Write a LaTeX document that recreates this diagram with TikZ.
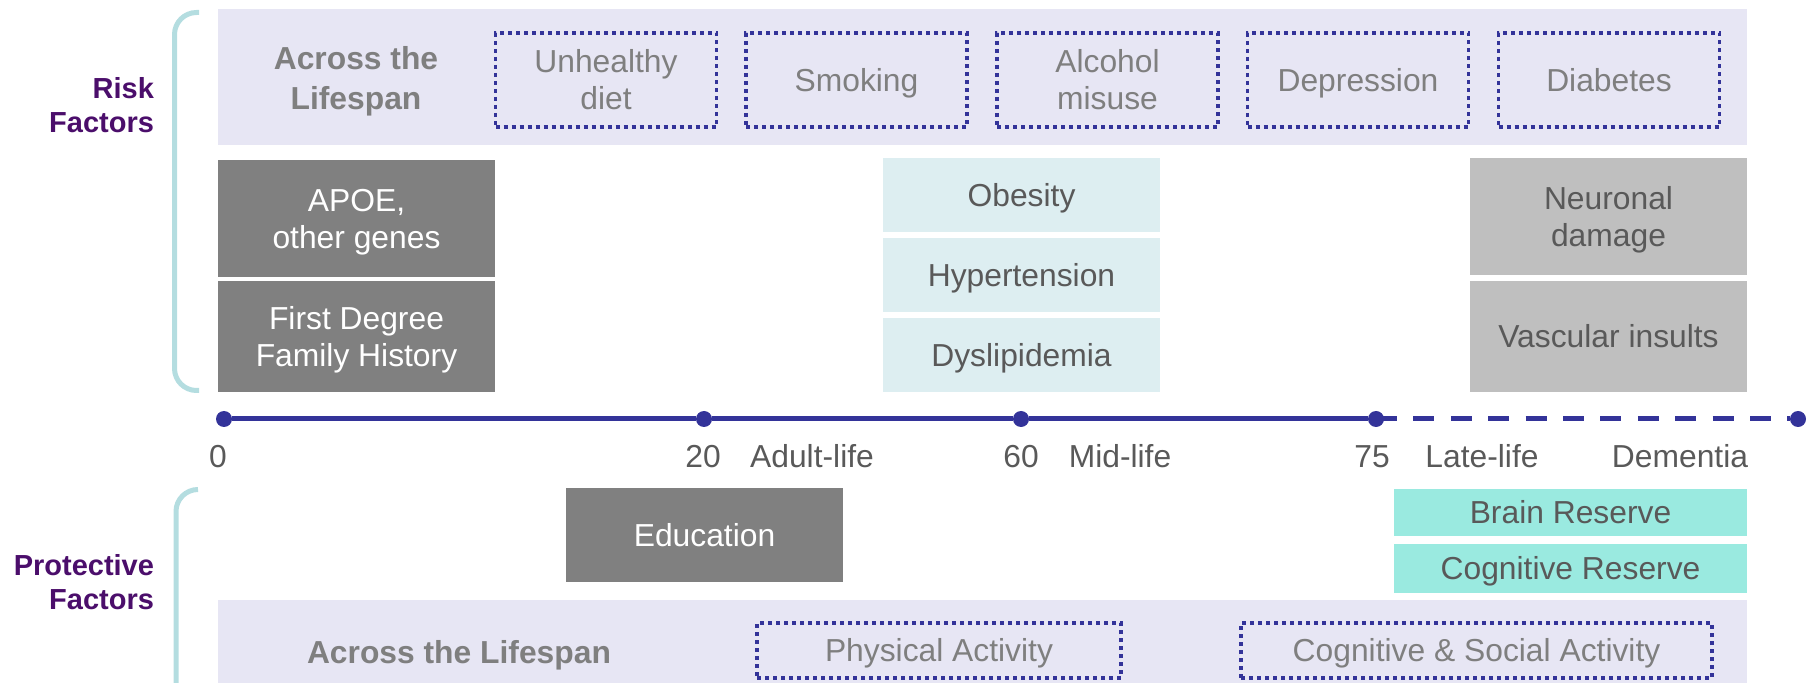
\documentclass[tikz,border=0pt]{standalone}
\usepackage{fontspec}
\setmainfont{Liberation Sans}
\usetikzlibrary{positioning}

\definecolor{bandlav}{HTML}{E7E6F4}
\definecolor{dotnavy}{HTML}{333399}
\definecolor{softgray}{HTML}{7F7F7F}
\definecolor{inkgray}{HTML}{595959}
\definecolor{genegray}{HTML}{808080}
\definecolor{lategray}{HTML}{BFBFBF}
\definecolor{paleteal}{HTML}{DDEEF1}
\definecolor{aqua}{HTML}{9AEAE0}
\definecolor{braceteal}{HTML}{B4DDE0}
\definecolor{plum}{HTML}{4B0E6B}

\newcommand\figfont{\fontsize{15.9}{18.5}\selectfont}
% even strut so that capitals sit in the middle of a box
\newcommand\capstrut{\rule[-0.234em]{0pt}{1.184em}}

\tikzset{
  lbl/.style={font=\figfont, text=inkgray, align=center, inner sep=0pt, outer sep=0pt,
    execute at begin node=\capstrut},
  band/.style={fill=bandlav, inner sep=0pt, outer sep=0pt, minimum width=764.5pt},
  dotbox/.style={lbl, text=softgray, draw=dotnavy, line width=1.6pt, dash pattern=on 2pt off 2pt},
  agebox/.style={lbl, minimum width=138.5pt},
  brace/.style={draw=braceteal, line width=2.5pt, rounded corners=11pt},
  tdot/.style={circle, fill=dotnavy, inner sep=0pt, minimum size=8pt},
  tline/.style={draw=dotnavy, line width=2.5pt},
  side/.style={lbl, font=\fontsize{14.5}{17}\selectfont\bfseries, text=plum, align=right, anchor=east}
}

\begin{document}
\begin{tikzpicture}[x=0.5pt, y=-0.5pt]
  \useasboundingbox (0,0) rectangle (1813,683);

  %%%%% RISK FACTORS %%%%%
  \draw[brace] (199,12.5) -- (174.5,12.5) -- (174.5,390.5) -- (199,390.5);
  \node[side] (risklbl) at (154,105) {\capstrut Risk\\Factors};

  \node[band, minimum height=68pt] (topband) at (982.5,77) {};
  \node[lbl, font=\fontsize{15.9}{20}\selectfont\bfseries, text=softgray] (acrosstop) at (356,78) {\capstrut Across the\\Lifespan};
  \node[dotbox, minimum width=110.5pt, minimum height=47pt] (unhealthy) at (606,80) {\capstrut Unhealthy\\diet};
  \node[dotbox, minimum width=110.5pt, minimum height=47pt] (smoking) at (856.5,80) {Smoking};
  \node[dotbox, minimum width=110.5pt, minimum height=47pt] (alcohol) at (1107.5,80) {\capstrut Alcohol\\misuse};
  \node[dotbox, minimum width=110.5pt, minimum height=47pt] (depression) at (1358,80) {Depression};
  \node[dotbox, minimum width=110.5pt, minimum height=47pt] (diabetes) at (1609,80) {Diabetes};

  \node[agebox, fill=genegray, text=white, minimum height=58.5pt] (apoe) at (356.5,218.5) {\capstrut APOE,\\other genes};
  \node[agebox, fill=genegray, text=white, minimum height=55.5pt, below=2pt of apoe] (family) {\capstrut First Degree\\Family History};

  \node[agebox, fill=paleteal, minimum height=37pt] (obesity) at (1021.5,195) {Obesity};
  \node[agebox, fill=paleteal, minimum height=37pt, below=3pt of obesity] (hypertension) {Hypertension};
  \node[agebox, fill=paleteal, minimum height=37pt, below=3pt of hypertension] (dyslipid) {Dyslipidemia};

  \node[agebox, fill=lategray, minimum height=58.5pt] (neuronal) at (1608.5,216.5) {\capstrut Neuronal\\damage};
  \node[agebox, fill=lategray, minimum height=55.5pt, below=3pt of neuronal] (vascular) {Vascular insults};

  %%%%% TIMELINE %%%%%
  \node[tdot] (t0) at (224,419) {};
  \node[tdot] (t20) at (704,419) {};
  \node[tdot] (t60) at (1021,419) {};
  \node[tdot] (t75) at (1376,419) {};
  \node[tdot] (tend) at (1798,419) {};
  \draw[tline] (t0) -- (t20) -- (t60) -- (t75);
  \draw[tline, dash pattern=on 10.5pt off 8.2pt] (t75.center) -- (tend);

  \node[lbl, anchor=base] (lab0) at (218,467) {0};
  \node[lbl, anchor=base] (lab20) at (703,467) {20};
  \node[lbl, anchor=base] (adult) at (812,467) {Adult-life};
  \node[lbl, anchor=base] (lab60) at (1021,467) {60};
  \node[lbl, anchor=base] (mid) at (1120,467) {Mid-life};
  \node[lbl, anchor=base] (lab75) at (1372,467) {75};
  \node[lbl, anchor=base] (late) at (1482,467) {Late-life};
  \node[lbl, anchor=base] (dementia) at (1680,467) {Dementia};

  %%%%% PROTECTIVE FACTORS %%%%%
  \draw[brace] (198,489.5) -- (176,489.5) -- (176,683);
  \node[side] (protlbl) at (154,582) {\capstrut Protective\\Factors};

  \node[agebox, fill=genegray, text=white, minimum height=47pt] (education) at (704.5,535) {Education};
  \node[lbl, fill=aqua, minimum width=176.5pt, minimum height=23.5pt] (brainres) at (1570.5,512.5) {Brain Reserve};
  \node[lbl, fill=aqua, minimum width=176.5pt, minimum height=24.5pt, below=4pt of brainres] (cogres) {Cognitive Reserve};

  \node[band, minimum height=41.5pt] (botband) at (982.5,641.5) {};
  \node[lbl, font=\figfont\bfseries, text=softgray] (acrossbot) at (459,652) {Across the Lifespan};
  \node[dotbox, minimum width=182pt, minimum height=27.5pt] (physical) at (939,650.5) {Physical Activity};
  \node[dotbox, minimum width=235.5pt, minimum height=27.5pt] (cogsocial) at (1476.5,650.5) {Cognitive \& Social Activity};
\end{tikzpicture}
\end{document}
